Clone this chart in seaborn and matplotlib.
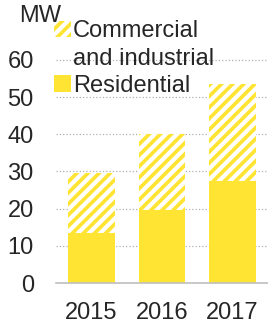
import seaborn as sns
import matplotlib.pyplot as plt
import matplotlib.patches as mpatches
import pandas as pd

# Data (MW)
years = ['2015', '2016', '2017']
residential = [13.5, 19.6, 27.4]
commercial = [16.0, 20.4, 26.1]

yellow = '#FFE433'
fs = 17

data = pd.DataFrame({'year': years, 'residential': residential, 'commercial': commercial})
data['total'] = data['residential'] + data['commercial']

sns.set_style('white')
plt.rcParams['font.family'] = ['Liberation Sans', 'DejaVu Sans']
plt.rcParams['hatch.linewidth'] = 3.0
plt.rcParams['hatch.color'] = 'white'

fig = plt.figure(figsize=(2.68, 3.25), dpi=100)
ax = fig.add_axes([56 / 268, 42 / 325, 212 / 268, 273 / 325])

# stacked bars: draw the total (hatched) first, then residential over it
sns.barplot(data=data, x='year', y='total', color=yellow, saturation=1,
            width=0.66, hatch='///', edgecolor='white', linewidth=0, ax=ax)
sns.barplot(data=data, x='year', y='residential', color=yellow, saturation=1,
            width=0.66, linewidth=0, ax=ax)

ax.set_xlim(-0.5, 2.5)
ax.set_ylim(0, 73.4)
ax.set_yticks([0, 10, 20, 30, 40, 50, 60])
ax.set_xlabel('')
ax.set_ylabel('')
ax.grid(True, axis='y', linestyle=':', color='#B0B0B0', linewidth=0.9)
ax.set_axisbelow(True)

for s in ['top', 'right', 'left']:
    ax.spines[s].set_visible(False)
ax.spines['bottom'].set_color('#BFBFBF')
ax.spines['bottom'].set_linewidth(1.2)

ax.tick_params(axis='y', length=0, labelsize=fs, pad=16)
ax.tick_params(axis='x', which='major', length=0, labelsize=fs, pad=14)
ax.set_xticks([-0.5, 0.5, 1.5, 2.5], minor=True)
ax.tick_params(axis='x', which='minor', length=5, color='#BFBFBF', width=1.2)

fig.text(19 / 268, 1 - 16 / 325, 'MW', fontsize=fs, va='center', ha='left')

handles = [
    mpatches.Patch(facecolor=yellow, hatch='///', edgecolor='white', linewidth=0,
                   label='Commercial'),
    mpatches.Patch(facecolor='none', edgecolor='none', linewidth=0,
                   label='and industrial'),
    mpatches.Patch(facecolor=yellow, linewidth=0, label='Residential'),
]
ax.legend(handles=handles, loc='upper left', bbox_to_anchor=(-0.008, 0.962),
          frameon=False, fontsize=fs, handlelength=0.7, handleheight=0.7,
          handletextpad=0.1, labelspacing=0.22, borderaxespad=0, borderpad=0)

fig.savefig('out.png', dpi=100)
